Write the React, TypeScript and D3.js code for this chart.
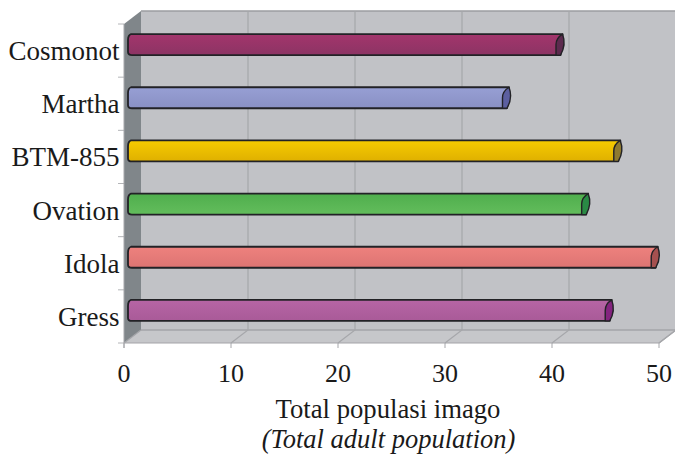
import React from "react";
import * as d3 from "d3";

const varieties = ["Gress", "Idola", "Ovation", "BTM-855", "Martha", "Cosmonot"];
const totals = [44.6, 48.9, 42.4, 45.4, 35, 40];
const barTop = ["#b665a5", "#ee817e", "#4fae4d", "#f7cb00", "#979fd4", "#a3356c"];
const barBottom = ["#a95a98", "#dd7472", "#63bd5c", "#dfb000", "#8990c4", "#8c3464"];
const capColors = ["#84247f", "#a5504f", "#2a8a45", "#8f7a30", "#5c5fa0", "#5c2a4e"];
const xTicks = [0, 10, 20, 30, 40, 50];

const FONT = "'Liberation Serif', serif";

const App: React.FC = () => {
  const depthX = 17;
  const depthY = 13;
  const x = d3.scaleLinear().domain([0, 50]).range([124, 659]);
  const y = d3.scaleBand<string>().domain(varieties).range([343, 24]);
  const bandTicks = d3.range(0, varieties.length + 1).map((i) => 343 - i * y.step());

  const left = x(0);
  const right = x(50);
  const top = y.range()[1];
  const bottom = y.range()[0];
  const barH = 21;

  return (
    <svg
      width={675}
      height={454}
      style={{ position: "absolute", left: 0, top: 0, background: "#fff" }}
    >
      <defs>
        {barTop.map((c, i) => (
          <linearGradient key={i} id={`bar${i}`} x1="0" y1="0" x2="0" y2="1">
            <stop offset="0%" stopColor={c} />
            <stop offset="100%" stopColor={barBottom[i]} />
          </linearGradient>
        ))}
      </defs>

      {/* back wall */}
      <rect
        x={left + depthX}
        y={top - depthY}
        width={right - left}
        height={bottom - top}
        fill="#c1c2c6"
      />
      <line
        x1={left + depthX}
        x2={right + depthX}
        y1={top - depthY}
        y2={top - depthY}
        stroke="#9b9ca0"
        strokeWidth={1.5}
      />
      {/* floor */}
      <polygon
        points={[
          [left, bottom],
          [right, bottom],
          [right + depthX, bottom - depthY],
          [left + depthX, bottom - depthY],
        ].join(" ")}
        fill="#c6c7ca"
      />
      {/* left wall */}
      <polygon
        points={[
          [left, top],
          [left + depthX, top - depthY],
          [left + depthX, bottom - depthY],
          [left, bottom],
        ].join(" ")}
        fill="#80868a"
      />
      <line
        x1={left + depthX}
        x2={right + depthX}
        y1={bottom - depthY}
        y2={bottom - depthY}
        stroke="#a3a4a8"
        strokeWidth={1.5}
      />
      <line x1={left} x2={right} y1={bottom} y2={bottom} stroke="#a3a4a8" strokeWidth={1.2} />
      <line
        x1={right}
        x2={right + depthX}
        y1={bottom}
        y2={bottom - depthY}
        stroke="#a3a4a8"
        strokeWidth={1.2}
      />
      <line
        x1={left}
        x2={left + depthX}
        y1={bottom}
        y2={bottom - depthY}
        stroke="#a3a4a8"
        strokeWidth={1.2}
      />

      {/* grid */}
      {xTicks.map((t) => (
        <g key={t} stroke="#a6a7ab" fill="none">
          {t > 0 && (
            <path
              d={`M${x(t)},${bottom}L${x(t) + depthX},${bottom - depthY}V${top - depthY}`}
              strokeWidth={1.2}
            />
          )}
          <line x1={x(t)} x2={x(t)} y1={bottom} y2={bottom + 5} strokeWidth={1} />
        </g>
      ))}
      {bandTicks.map((t) => (
        <line key={t} x1={left - 6} x2={left} y1={t} y2={t} stroke="#b4b5b8" strokeWidth={1} />
      ))}
      <line x1={left} x2={left} y1={top} y2={bottom + 5} stroke="#a6a7ab" strokeWidth={1} />

      {/* bars */}
      {varieties.map((v, i) => {
        const cy = y(v)! + y.bandwidth() / 2 - 6;
        const x0 = x(0) + 8;
        const x1 = x0 + (x(totals[i]) - x(0));
        const t = cy - barH / 2;
        const b = cy + barH / 2;
        return (
          <g key={v} stroke="#222226" strokeWidth={1.8} strokeLinejoin="round">
            <path
              d={`M${x1 + 2.5},${t}H${x0 - 1}Q${x0 - 4},${t + 1} ${x0 - 4},${t + 6}V${b - 3}Q${x0 - 4},${b} ${x0},${b}H${x1 + 0.5}Z`}
              fill={`url(#bar${i})`}
            />
            <path
              d={`M${x1 + 2.5},${t}Q${x1 + 6.5},${cy} ${x1 + 0.5},${b}H${x1 - 4}V${cy}Q${x1 - 4},${t + 4} ${x1 + 2.5},${t}Z`}
              fill={capColors[i]}
              strokeWidth={1.4}
            />
          </g>
        );
      })}

      {/* labels */}
      <g fontFamily={FONT} fill="#1a1a1a">
        {varieties.map((v) => (
          <text
            key={v}
            x={119.5}
            y={y(v)! + y.bandwidth() / 2}
            dy="0.35em"
            textAnchor="end"
            fontSize={27}
          >
            {v}
          </text>
        ))}
        {xTicks.map((t) => (
          <text key={t} x={x(t)} y={382} textAnchor="middle" fontSize={26}>
            {t}
          </text>
        ))}
        <text x={388} y={418} textAnchor="middle" fontSize={26.7}>
          Total populasi imago
        </text>
        <text x={388.5} y={448} textAnchor="middle" fontSize={26.5} fontStyle="italic">
          (Total adult population)
        </text>
      </g>
    </svg>
  );
};

export default App;
